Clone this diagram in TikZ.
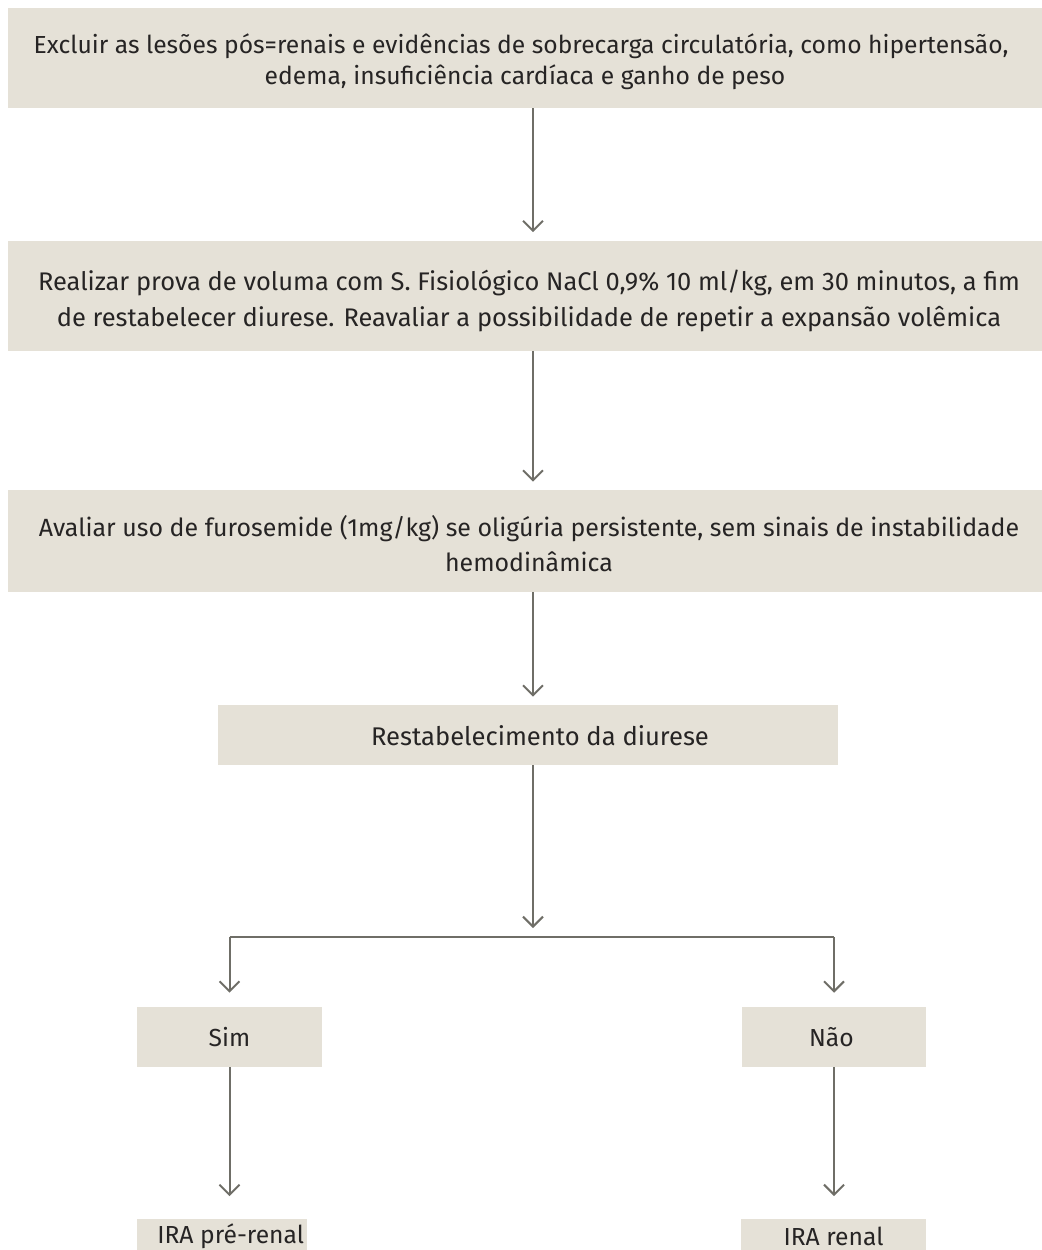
\documentclass[tikz,border=0pt]{standalone}
\usepackage{fontspec}
\setmainfont{Fira Sans}
\usetikzlibrary{arrows.meta}
\definecolor{boxfill}{HTML}{E5E1D7}
\definecolor{linegray}{HTML}{6F6E67}
\definecolor{txt}{HTML}{262424}
\tikzset{
  px/.style={x=0.75pt,y=-0.75pt},
  box/.style={fill=boxfill, draw=none, inner sep=0pt, align=center, text=txt,
    font=\fontsize{18.5}{23.25}\selectfont},
  widebox/.style={box, font=\fontsize{19.1}{27}\selectfont},
  arr/.style={draw=linegray, line width=1.5pt,
    -{Straight Barb[length=7.5pt,width=15pt,line width=1.5pt]}},
  link/.style={draw=linegray, line width=1.5pt}
}
\begin{document}
\begin{tikzpicture}[px]
\useasboundingbox (0,0) rectangle (1042,1250);
\clip (0,0) rectangle (1042,1250);
\node[box, minimum width=1034*0.75pt, minimum height=100*0.75pt] (b1) at (525,58)
  {\rule{0pt}{20pt}\hspace*{-6pt}Excluir as lesões pós=renais e evidências de sobrecarga circulatória, como hipertensão,\\
   edema, insuficiência cardíaca e ganho de peso};
\node[widebox, minimum width=1034*0.75pt, minimum height=110*0.75pt] (b2) at (525,295.5)
  {\rule{0pt}{24pt}\hspace*{6pt}Realizar prova de voluma com S. Fisiológico NaCl 0,9\% 10 ml/kg, em 30 minutos, a fim\\
   \hspace*{6pt}de restabelecer diurese. Reavaliar a possibilidade de repetir a expansão volêmica};
\node[box, font=\fontsize{18.7}{26.5}\selectfont, minimum width=1034*0.75pt, minimum height=102*0.75pt] (b3) at (525,541)
  {\rule{0pt}{19.5pt}\hspace*{6pt}Avaliar uso de furosemide (1mg/kg) se oligúria persistente, sem sinais de instabilidade\\
   \hspace*{6pt}hemodinâmica};
\node[box, font=\fontsize{19.2}{23.25}\selectfont, minimum width=620*0.75pt, minimum height=60*0.75pt] (b4) at (528,735)
  {\rule{0pt}{16pt}\hspace*{18pt}Restabelecimento da diurese};
\node[box, minimum width=185*0.75pt, minimum height=60*0.75pt] (sim) at (229.5,1037) {Sim};
\node[box, minimum width=184*0.75pt, minimum height=60*0.75pt] (nao) at (834,1037) {\hspace*{-4pt}Não};
\node[box, minimum width=170*0.75pt, minimum height=34*0.75pt] (ira1) at (222,1236)
  {\hspace*{13pt}IRA pré-renal};
\node[box, minimum width=185*0.75pt, minimum height=34*0.75pt] (ira2) at (833.5,1236)
  {IRA renal};
\coordinate (j) at (533,937);
\coordinate (jl) at (sim.north |- j);
\coordinate (jr) at (nao.north |- j);
\draw[arr, shorten >=6pt] ([xshift=8*0.75pt]b1.south) -- ([xshift=8*0.75pt]b2.north);
\draw[arr, shorten >=6pt] ([xshift=8*0.75pt]b2.south) -- ([xshift=8*0.75pt]b3.north);
\draw[arr, shorten >=6pt] ([xshift=8*0.75pt]b3.south) -- ([xshift=5*0.75pt]b4.north);
\draw[arr, shorten >=6.75pt] ([xshift=5*0.75pt]b4.south) -- (j);
\draw[link] (jl) -- (jr);
\draw[arr, shorten >=10.5pt] (jl) -- (sim.north);
\draw[arr, shorten >=10.5pt] (jr) -- (nao.north);
\draw[arr, shorten >=17pt] (sim.south) -- (sim.south |- ira1.north);
\draw[arr, shorten >=17pt] (nao.south) -- (nao.south |- ira2.north);
\end{tikzpicture}
\end{document}
